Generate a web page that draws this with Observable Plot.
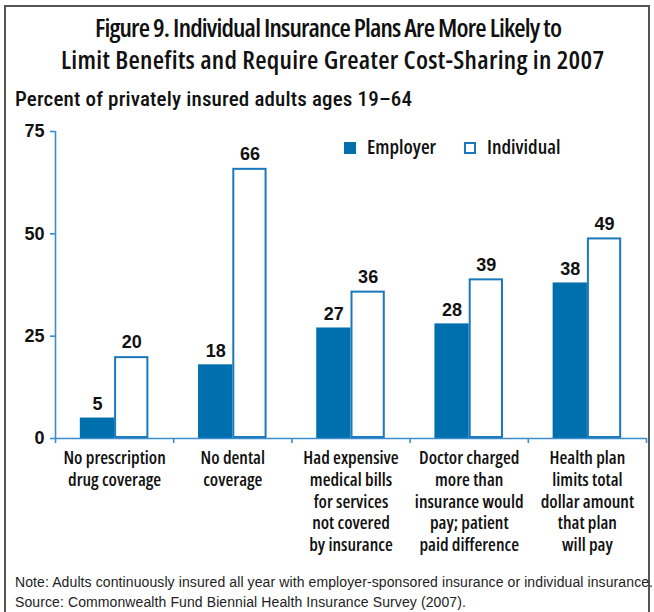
<!DOCTYPE html>
<html><head><meta charset="utf-8">
<script src="https://cdn.jsdelivr.net/npm/d3@7"></script>
<script src="https://cdn.jsdelivr.net/npm/@observablehq/plot@0.6"></script>
<style>
body{margin:0;background:#fff;width:654px;height:612px;overflow:hidden;position:relative;font-family:"Open Sans",sans-serif;font-stretch:condensed;color:#111;}
#frame{position:absolute;left:4px;top:5px;width:642px;height:650px;border:2px solid #555;}
.fit{position:absolute;white-space:nowrap;}
.t{font-size:26px;line-height:31px;font-weight:600;}
.sub{font-family:Roboto,sans-serif;font-size:21px;line-height:26px;font-weight:500;}
#chart{position:absolute;left:0;top:110px;}
#chart svg text{font-stretch:condensed;}
.lg{position:absolute;font-size:20px;line-height:20px;font-weight:600;white-space:nowrap;}
.sw{position:absolute;width:12px;height:12px;box-sizing:border-box;}
.note{position:absolute;left:15px;top:572px;font-size:14px;line-height:20px;white-space:nowrap;color:#222;font-family:"Liberation Sans",sans-serif;font-stretch:normal;letter-spacing:0.1px;}
</style></head>
<body>
<div id="frame"></div>
<div class="fit t" id="t1" data-x1="95" data-x2="562" style="top:12px">Figure 9. Individual Insurance Plans Are More Likely to</div>
<div class="fit t" id="t2" data-x1="61" data-x2="604" style="top:44px">Limit Benefits and Require Greater Cost-Sharing in 2007</div>
<div class="fit sub" id="st" data-x1="15" data-x2="412" style="top:86px">Percent of privately insured adults ages 19–64</div>
<div id="chart"></div>
<div id="legend"></div>
<div class="note">Note: Adults continuously insured all year with employer-sponsored insurance or individual insurance.<br>Source: Commonwealth Fund Biennial Health Insurance Survey (2007).</div>
<script>
const categories = [
  "No prescription\ndrug coverage",
  "No dental\ncoverage",
  "Had expensive\nmedical bills\nfor services\nnot covered\nby insurance",
  "Doctor charged\nmore than\ninsurance would\npay; patient\npaid difference",
  "Health plan\nlimits total\ndollar amount\nthat plan\nwill pay"
];
const series = ["Employer", "Individual"];
const employer = [5, 18, 27, 28, 38];
const individual = [20, 66, 36, 39, 49];
const yTicks = [0, 25, 50, 75];

const BLUE = "#006fad";
const EDGE = "#1a78bd";
const AXIS = "#3a8dcf";
const half = 0.29;

// fit the heading lines to the reference's horizontal extents via letter-spacing
for (const el of document.querySelectorAll(".fit")) {
  const x1 = +el.dataset.x1, x2 = +el.dataset.x2;
  el.style.left = x1 + "px";
  const w = el.getBoundingClientRect().width;
  const n = el.textContent.length;
  el.style.letterSpacing = ((x2 - x1 - w) / (n - 1)) + "px";
}

const rows = categories.flatMap((c, i) => [
  {i, c, s: series[0], v: employer[i]},
  {i, c, s: series[1], v: individual[i]}
]);
const emp = rows.filter(d => d.s === series[0]);
const ind = rows.filter(d => d.s === series[1]);
const idx = categories.map((_, i) => i);
const bounds = [-0.5, ...categories.map((_, i) => i + 0.5)];

const NUMFONT = '"Liberation Sans", Arial, sans-serif';

const chart = Plot.plot({
  width: 654,
  height: 460,
  marginLeft: 55,
  marginRight: 8,
  marginTop: 21,
  marginBottom: 132,
  style: {fontFamily: '"Open Sans", sans-serif', color: "#111", background: "transparent", overflow: "visible"},
  x: {domain: [-0.5, categories.length - 0.5], axis: null},
  y: {domain: [0, 75], axis: null},
  marks: [
    Plot.rectY(emp, {x1: d => d.i - half, x2: d => d.i, y1: 0, y2: "v", fill: BLUE}),
    Plot.rectY(ind, {x1: d => d.i, x2: d => d.i + half, y1: 0, y2: "v", fill: "#fff", stroke: EDGE, strokeWidth: 2, inset: 1}),
    Plot.ruleY([0], {stroke: AXIS, strokeWidth: 1.6}),
    Plot.ruleX([-0.5], {y1: 0, y2: 75, stroke: AXIS, strokeWidth: 1.6}),
    Plot.axisY({ticks: yTicks, tickSize: 5, stroke: AXIS, strokeWidth: 1.6, tickPadding: 6, fontSize: 18, fontWeight: "bold", fontFamily: NUMFONT, color: "#111", label: null}),
    Plot.axisX({ticks: bounds, tickFormat: () => "", tickSize: 5, stroke: AXIS, strokeWidth: 1.6, label: null}),
    Plot.axisX({ticks: idx, tickFormat: i => categories[i], tickSize: 0, tickPadding: 10, fontSize: 18, fontWeight: 600, lineHeight: 1.21, label: null}),
    Plot.text(emp, {x: d => d.i - half / 2, y: "v", text: d => String(d.v), dy: -14, fontSize: 18, fontWeight: "bold", fontFamily: NUMFONT, fill: "#111"}),
    Plot.text(ind, {x: d => d.i + half / 2, y: "v", text: d => String(d.v), dy: -14, fontSize: 18, fontWeight: "bold", fontFamily: NUMFONT, fill: "#111"})
  ]
});
document.getElementById("chart").appendChild(chart);

// legend
const legend = document.getElementById("legend");
const lgSpec = [
  {label: series[0], sq: 344, tx: 367, style: `background:${BLUE}`},
  {label: series[1], sq: 464, tx: 487, style: `background:#fff;border:2px solid ${EDGE}`}
];
for (const l of lgSpec) {
  const s = document.createElement("div");
  s.className = "sw"; s.style.cssText = `left:${l.sq}px;top:142px;` + l.style;
  const t = document.createElement("div");
  t.className = "lg"; t.style.left = l.tx + "px"; t.style.top = "137px"; t.textContent = l.label;
  legend.appendChild(s); legend.appendChild(t);
}
</script>
</body></html>
